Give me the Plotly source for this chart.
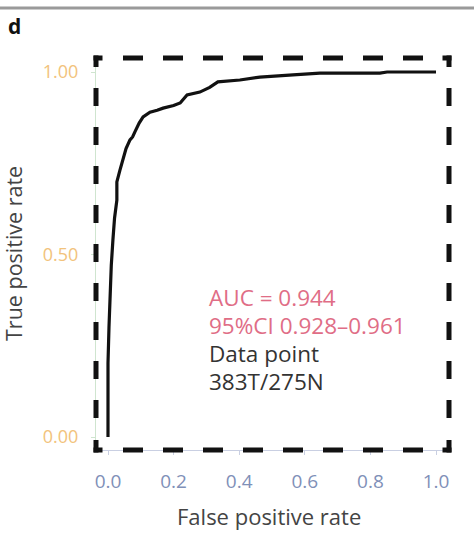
import plotly.graph_objects as go

# ROC curve points (false positive rate, true positive rate)
fpr = [0.0, 0.0, 0.003, 0.006, 0.010, 0.015, 0.020, 0.027, 0.027, 0.036, 0.046, 0.055,
       0.067, 0.075, 0.082, 0.095, 0.107, 0.128, 0.150, 0.168, 0.200, 0.220, 0.241,
       0.280, 0.310, 0.335, 0.402, 0.463, 0.564, 0.646, 0.829, 0.851, 1.0]
tpr = [0.0, 0.203, 0.300, 0.408, 0.470, 0.540, 0.600, 0.649, 0.699, 0.730, 0.759, 0.790,
       0.814, 0.822, 0.836, 0.860, 0.877, 0.890, 0.895, 0.901, 0.908, 0.915, 0.937,
       0.945, 0.958, 0.973, 0.978, 0.986, 0.992, 0.997, 0.997, 1.0, 1.0]

x_ticks = [0.0, 0.2, 0.4, 0.6, 0.8, 1.0]
x_tick_labels = ["0.0", "0.2", "0.4", "0.6", "0.8", "1.0"]
y_ticks = [0.0, 0.5, 1.0]
y_tick_labels = ["0.00", "0.50", "1.00"]

auc_lines = ["AUC = 0.944", "95%CI 0.928\u20130.961"]
info_lines = ["Data point", "383T/275N"]

FONT = "Open Sans"
W, H = 474, 534
L, R, T, B = 96, 25, 58, 84
PW, PH = W - L - R, H - T - B

fig = go.Figure()
fig.add_trace(go.Scatter(x=fpr, y=tpr, mode="lines",
                         line=dict(color="#111111", width=3.2),
                         showlegend=False, hoverinfo="skip"))

def px_x(p):
    return (p - L) / PW

def px_y(p):
    return (H - B - p) / PH

shapes = []
hw = 2.5
top_dash = "9px,20.5px," + ",".join(["20px,20px"] * 7) + ",20px,19.5px,9px,400px"
side_dash = "11.5px,21px," + ",".join(["18px,21px"] * 8) + ",18px,22px,12.5px,400px"
box_col = "#111111"
lw = 5
# top & bottom
for yy in (58, 450):
    shapes.append(dict(type="line", xref="paper", yref="paper",
                       x0=px_x(96 - hw), x1=px_x(449 + hw), y0=px_y(yy), y1=px_y(yy),
                       line=dict(color=box_col, width=lw, dash=top_dash), layer="above"))
# left & right
for xx in (96, 449):
    shapes.append(dict(type="line", xref="paper", yref="paper",
                       x0=px_x(xx), x1=px_x(xx), y0=px_y(58 - hw), y1=px_y(450 + hw),
                       line=dict(color=box_col, width=lw, dash=side_dash), layer="above"))
# top grey rule
shapes.append(dict(type="line", xref="paper", yref="paper",
                   x0=px_x(0), x1=px_x(474), y0=px_y(8), y1=px_y(8),
                   line=dict(color="#9a9a9a", width=3)))
fig.update_layout(shapes=shapes)

annotations = []
auc_col = "#e06d86"
ys = [297, 325, 353, 381]
texts = auc_lines + info_lines
cols = [auc_col, auc_col, "#333333", "#333333"]
for t, yy, c in zip(texts, ys, cols):
    annotations.append(dict(text=t, xref="paper", yref="paper", x=px_x(207), y=px_y(yy),
                            xanchor="left", yanchor="middle", showarrow=False,
                            font=dict(family=FONT, size=22.5, color=c)))
annotations.append(dict(text="<b>d</b>", xref="paper", yref="paper", x=px_x(6), y=px_y(26),
                        xanchor="left", yanchor="middle", showarrow=False,
                        font=dict(family=FONT, size=21, color="#111111")))
annotations.append(dict(text="False positive rate", xref="paper", yref="paper",
                        x=px_x(269), y=px_y(516), xanchor="center", yanchor="middle",
                        showarrow=False, font=dict(family=FONT, size=22, color="#444444")))
annotations.append(dict(text="True positive rate", xref="paper", yref="paper",
                        x=px_x(13), y=px_y(254), xanchor="center", yanchor="middle",
                        textangle=-90, showarrow=False,
                        font=dict(family=FONT, size=21.5, color="#444444")))
fig.update_layout(annotations=annotations)

fig.update_xaxes(range=[(96 - 108) / 328, (449 - 108) / 328], tickvals=x_ticks,
                 ticktext=x_tick_labels, showgrid=False, zeroline=False,
                 showline=True, linecolor="#c9cfe2", linewidth=1,
                 ticks="outside", ticklen=4, tickcolor="#c9cfe2",
                 ticklabelstandoff=10,
                 tickfont=dict(family=FONT, size=19, color="#7f90b8"))
fig.update_yaxes(range=[(437 - 450) / 365, (437 - 58) / 365], tickvals=y_ticks,
                 ticktext=y_tick_labels, showgrid=False, zeroline=False,
                 showline=True, linecolor="#cfe5cf", linewidth=1,
                 ticks="outside", ticklen=4, tickcolor="#cfe5cf",
                 ticklabelstandoff=9,
                 tickfont=dict(family=FONT, size=18, color="#f2c37c"))

fig.update_layout(width=W, height=H, margin=dict(l=L, r=R, t=T, b=B),
                  paper_bgcolor="white", plot_bgcolor="white",
                  font=dict(family=FONT))

fig.write_html("out.html")
